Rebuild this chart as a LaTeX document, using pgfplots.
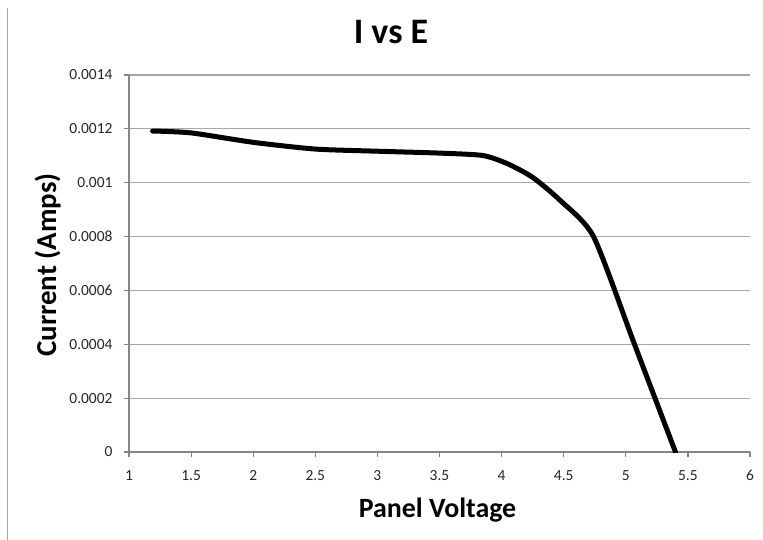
\documentclass[border=0pt]{standalone}
\usepackage{pgfplots}
\pgfplotsset{compat=1.18}
\usepackage{fontspec}
\setmainfont{Carlito}

\definecolor{axisgray}{HTML}{868686}
\definecolor{gridgray}{HTML}{A6A6A6}

\begin{document}
\begin{tikzpicture}
	\path[use as bounding box] (0,0) rectangle (763bp,-540bp);
	% frame line on the left edge
	\draw[gridgray, line width=1.5bp] (7.5bp,-8bp) -- (7.5bp,-540bp);

	\begin{axis}[
			at={(129bp,-452bp)}, anchor=south west,
			scale only axis,
			width=621bp, height=377bp,
			xmin=1, xmax=6, ymin=0, ymax=0.0014,
			xtick distance=0.5, ytick distance=0.0002,
			axis lines=left,
			axis line style={axisgray, line width=1.2bp, -},
			ymajorgrids,
			grid style={gridgray, line width=1.2bp},
			tick align=outside,
			major tick length=5bp,
			tick style={axisgray, line width=1.2bp},
			scaled y ticks=false,
			yticklabel style={/pgf/number format/fixed, /pgf/number format/precision=4, xshift=-8bp},
			xticklabel style={yshift=-10bp},
			/pgf/number format/assume math mode=true,
			ticklabel style={font=\fontsize{15.5}{18}\selectfont, text=black!85},
		]
		\addplot[black, line width=5bp, smooth, tension=0.4, line cap=round, line join=round] coordinates {
			(1.19,0.001192)
			(1.5,0.001185)
			(2.0,0.00115)
			(2.5,0.001125)
			(3.0,0.001117)
			(3.5,0.00111)
			(3.85,0.001101)
			(4.05,0.00107)
			(4.25,0.00102)
			(4.47,0.000935)
			(4.74,0.0008)
			(5.07,0.0004)
			(5.40,0)
		};
	\end{axis}

	\node[anchor=base, font=\fontsize{36}{40}\selectfont\bfseries] at (391bp,-43.3bp) {I vs E};
	\node[anchor=base, font=\fontsize{28}{32}\selectfont\bfseries] at (437.5bp,-517bp) {Panel Voltage};
	\node[anchor=base, rotate=90, font=\fontsize{29}{32}\selectfont\bfseries] at (56bp,-265bp) {Current (Amps)};
\end{tikzpicture}
\end{document}
